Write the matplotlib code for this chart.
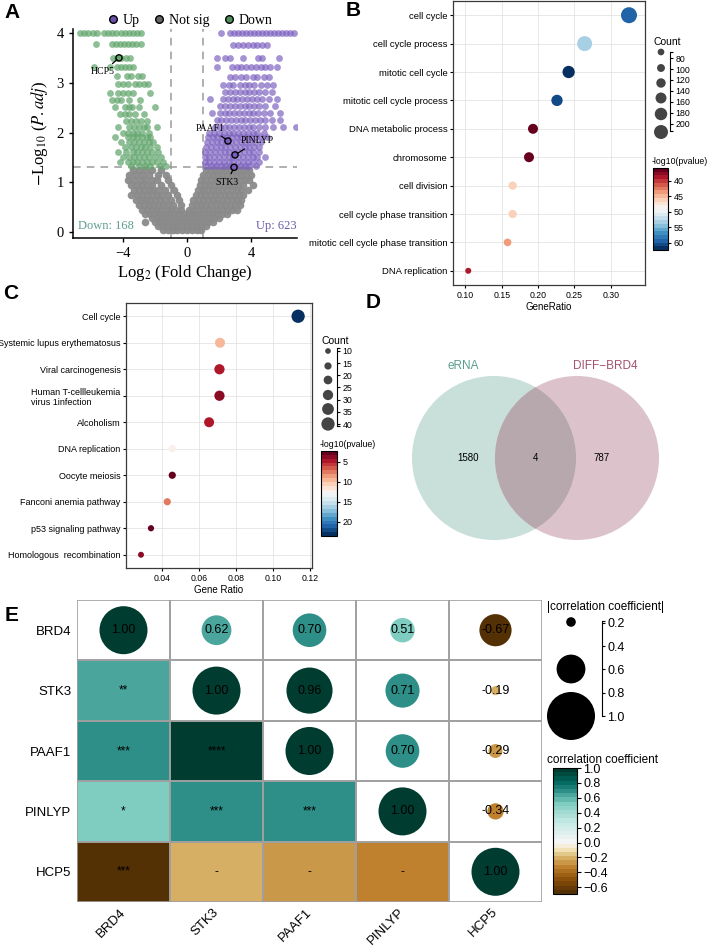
"""Recreation of a five-panel figure: volcano plot, GO / KEGG dot plots,
Venn diagram and a mixed correlation matrix."""

import matplotlib
matplotlib.use("Agg")
import matplotlib.pyplot as plt
import numpy as np
from matplotlib.cm import ScalarMappable
from matplotlib.colors import ListedColormap, Normalize
from matplotlib.lines import Line2D
from matplotlib.patches import Circle, Ellipse, Rectangle

W, H = 709, 946
SANS = ["Liberation Sans", "DejaVu Sans"]
SERIF = ["Liberation Serif", "DejaVu Serif"]
plt.rcParams["font.family"] = SANS
plt.rcParams["mathtext.fontset"] = "stix"

# ---- A: volcano, points read row by row (y = -log10 padj) --------------
up_rows = [
    (4.00, [2.1, 2.7, 2.95, 3.2, 3.45, 3.7, 3.95, 4.2, 4.45, 4.7, 4.95, 5.2, 5.45, 5.7, 5.95, 6.2, 6.45, 6.7]),
    (3.76, [2.9, 3.2, 3.5, 3.8, 4.1, 4.4, 4.7, 5.0]),
    (3.50, [1.85, 2.4, 2.7, 3.5, 4.45, 4.7, 5.75]),
    (3.32, [1.85, 2.8, 3.1, 3.4, 3.7, 4.0, 4.3, 4.6, 4.9, 5.2, 5.6]),
    (3.12, [2.7, 3.0, 3.4, 3.7, 4.1, 4.4, 4.8, 5.1]),
    (2.95, [2.25, 2.6, 2.9, 3.3, 3.6, 3.9, 4.2, 4.6, 5.0, 5.4]),
    (2.82, [2.4, 2.7, 3.0, 3.3, 3.6, 3.9, 4.2, 4.5, 4.9, 5.3]),
    (2.67, [1.43, 2.25, 2.55, 2.85, 3.15, 3.45, 3.75, 4.05, 4.35, 4.7, 5.1, 5.6]),
    (2.53, [2.06, 2.4, 2.7, 3.0, 3.3, 3.6, 3.9, 4.2, 4.5, 4.9, 5.5]),
    (2.39, [1.55, 2.06, 2.35, 2.65, 2.95, 3.25, 3.55, 3.85, 4.15, 4.45, 4.8, 5.2, 5.8]),
    (2.25, [1.85, 2.15, 2.45, 2.75, 3.05, 3.35, 3.65, 3.95, 4.25, 4.55, 4.9, 5.3, 5.8]),
    (2.12, [1.75, 2.05, 2.35, 2.65, 2.95, 3.25, 3.55, 3.85, 4.15, 4.5, 4.9, 5.4, 6.0, 6.8]),
    (2.00, [1.4, 1.7, 2.0, 2.3, 2.6, 2.9, 3.2, 3.5, 3.8, 4.1, 4.4, 4.8]),
    (1.90, [1.3, 1.6, 1.9, 2.2, 2.5, 2.8, 3.1, 3.4, 3.7, 4.0, 4.3, 4.6, 5.0]),
    (1.80, [1.25, 1.55, 1.85, 2.15, 2.45, 2.75, 3.05, 3.35, 3.65, 3.95, 4.25, 4.6]),
    (1.70, [1.2, 1.5, 1.8, 2.1, 2.4, 2.7, 3.0, 3.3, 3.6, 3.9, 4.2, 4.5]),
    (1.60, [1.15, 1.45, 1.75, 2.05, 2.35, 2.65, 2.95, 3.25, 3.55, 3.85, 4.15, 4.5]),
    (1.50, [1.1, 1.4, 1.7, 2.0, 2.3, 2.6, 2.9, 3.2, 3.5, 3.8, 4.1, 4.4, 4.9]),
    (1.40, [1.1, 1.4, 1.7, 2.0, 2.3, 2.6, 2.9, 3.2, 3.5, 3.8, 4.1, 4.5]),
    (1.32, [1.2, 1.5, 1.8, 2.1, 2.4, 2.7, 3.0, 3.3, 3.6, 3.9, 4.3]),
]
down_rows = [
    (4.00, [-6.7, -6.45, -6.2, -5.9, -5.6, -5.2, -4.95, -4.7, -4.45, -4.1, -3.85, -3.6, -3.35, -3.1, -2.85]),
    (3.77, [-5.7, -4.7, -4.45, -4.2, -3.95, -3.7, -3.45, -3.2, -2.85]),
    (3.50, [-4.6, -4.35, -4.1, -3.8, -3.55]),
    (3.32, [-5.8, -4.8, -4.4, -4.15, -3.9, -3.65, -3.4]),
    (3.13, [-4.4, -3.77, -3.5, -3.06, -2.8]),
    (2.97, [-4.3, -4.0, -3.7, -3.25, -3.0, -2.7, -2.44]),
    (2.79, [-4.8, -4.3, -4.0, -3.7, -3.4, -2.3]),
    (2.65, [-4.7, -4.4, -4.1, -3.6, -2.94]),
    (2.52, [-4.5, -3.9, -3.65, -3.45, -3.0, -2.0]),
    (2.37, [-4.2, -3.9, -3.6, -3.25, -2.7]),
    (2.23, [-3.8, -3.5, -3.2, -2.9, -2.5]),
    (2.12, [-4.3, -3.6, -3.3, -3.0, -2.7, -2.5, -1.9]),
    (2.00, [-4.0, -3.7, -3.4, -3.1, -2.8, -2.4]),
    (1.90, [-4.5, -3.7, -3.4, -3.1, -2.8, -2.5, -2.3]),
    (1.80, [-4.1, -3.6, -3.3, -3.0, -2.7, -2.4, -2.1]),
    (1.70, [-3.9, -3.5, -3.2, -2.9, -2.6, -2.3, -1.9]),
    (1.60, [-4.3, -3.8, -3.4, -3.1, -2.8, -2.5, -2.2, -1.8]),
    (1.50, [-4.0, -3.6, -3.3, -3.0, -2.7, -2.4, -2.0, -1.6]),
    (1.40, [-4.2, -3.7, -3.4, -3.1, -2.8, -2.5, -2.2, -1.9, -1.5]),
    (1.33, [-3.5, -3.0, -2.6, -2.3, -1.7, -1.3]),
]
ns_rows = [
    (1.25, [-3.4, -3.0, -2.6, -2.2, -1.6, 1.2, 1.5, 1.8, 2.1, 2.4, 2.7, 3.0, 3.3, 3.6, 3.9]),
    (1.15, [-3.6, -3.2, -2.8, -2.4, -1.8, -1.3, 1.0, 1.3, 1.6, 1.9, 2.2, 2.5, 2.8, 3.1, 3.4, 3.7, 4.0]),
    (1.05, [-3.7, -3.3, -2.9, -2.6, -2.2, -1.9, -1.2, 0.9, 1.2, 1.5, 1.8, 2.1, 2.4, 2.7, 3.0, 3.3, 3.6, 3.9]),
    (0.95, [-3.5, -3.1, -2.8, -2.5, -2.2, -1.6, -1.0, 0.8, 1.1, 1.4, 1.7, 2.0, 2.3, 2.6, 2.9, 3.2, 3.5, 4.1]),
    (0.85, [-3.3, -3.0, -2.7, -2.4, -2.1, -1.8, -1.4, -0.8, 0.7, 1.0, 1.3, 1.6, 1.9, 2.2, 2.5, 2.8, 3.1, 3.4, 3.8]),
    (0.75, [-3.5, -3.1, -2.8, -2.5, -2.2, -1.9, -1.6, -1.2, -0.6, 0.55, 0.85, 1.15, 1.45, 1.75, 2.05, 2.35, 2.65, 2.95, 3.25, 3.5]),
    (0.65, [-3.2, -2.9, -2.6, -2.3, -2.0, -1.7, -1.4, -1.0, -0.5, 0.4, 0.7, 1.0, 1.3, 1.6, 1.9, 2.2, 2.5, 2.8, 3.1, 3.4]),
    (0.55, [-3.0, -2.7, -2.4, -2.1, -1.8, -1.5, -1.2, -0.9, -0.4, 0.3, 0.6, 0.9, 1.2, 1.5, 1.8, 2.1, 2.4, 2.7, 3.0, 3.3]),
    (0.45, [-2.8, -2.5, -2.2, -1.9, -1.6, -1.3, -1.0, -0.7, -0.4, 0.1, 0.4, 0.7, 1.0, 1.3, 1.6, 1.9, 2.2, 2.5, 2.8, 3.1]),
    (0.37, [-2.6, -2.3, -2.0, -1.7, -1.4, -1.1, -0.8, -0.5, -0.2, 0.1, 0.4, 0.7, 1.0, 1.3, 1.6, 1.9, 2.2, 2.5]),
    (0.29, [-2.2, -1.9, -1.6, -1.3, -1.0, -0.7, -0.4, -0.1, 0.2, 0.5, 0.8, 1.1, 1.4, 1.7, 2.0]),
    (0.21, [-2.6, -2.0, -1.7, -1.4, -1.1, -0.8, -0.5, -0.2, 0.1, 0.4, 0.7, 1.0, 1.3, 1.6]),
    (0.13, [-1.8, -1.5, -1.2, -0.9, -0.6, -0.3, 0.0, 0.3, 0.6, 0.9, 1.2]),
    (0.05, [-1.5, -1.2, -0.9, -0.6, -0.3, 0.0, 0.3, 0.6, 0.9]),
]
hit_genes = ["HCP5", "PAAF1", "PINLYP", "STK3"]
hit_x = [-4.25, 2.56, 3.0, 2.94]
hit_y = [3.50, 1.83, 1.55, 1.30]
hit_label_x = [-5.25, 1.44, 4.4, 2.5]
hit_label_y = [3.22, 2.09, 1.83, 1.00]
n_up, n_down = 623, 168

# ---- B: GO enrichment --------------------------------------------------
go_terms = ["cell cycle", "cell cycle process", "mitotic cell cycle",
            "mitotic cell cycle process", "DNA metabolic process", "chromosome",
            "cell division", "cell cycle phase transition",
            "mitotic cell cycle phase transition", "DNA replication"]
go_ratio = [0.325, 0.264, 0.242, 0.226, 0.193, 0.1875, 0.165, 0.165, 0.158, 0.104]
go_count = [233, 216, 172, 156, 134, 134, 106, 106, 96, 68]
go_logp = [59.0, 53.8, 61.5, 61.0, 37.0, 36.6, 46.4, 45.6, 43.2, 39.0]
go_count_legend = [80, 100, 125, 150, 175, 200]

# ---- C: KEGG enrichment ------------------------------------------------
kegg_terms = ["Cell cycle", "Systemic lupus erythematosus", "Viral carcinogenesis",
              "Human T-cellleukemia\nvirus 1infection", "Alcoholism", "DNA replication",
              "Oocyte meiosis", "Fanconi anemia pathway", "p53 signaling pathway",
              "Homologous  recombination"]
kegg_ratio = [0.1135, 0.0713, 0.0710, 0.0710, 0.0654, 0.0455, 0.0455, 0.0428, 0.0340, 0.0286]
kegg_count = [40, 27, 28, 28, 27, 17, 16, 16, 12, 11]
kegg_logp = [22.7, 10.0, 4.4, 4.0, 4.9, 12.1, 2.7, 7.6, 2.9, 4.2]
kegg_count_legend = [10, 16, 22, 28, 34, 40]

# ---- D: Venn -----------------------------------------------------------
venn_names = ["eRNA", "DIFF\u2212BRD4"]
venn_counts = [1580, 4, 787]   # eRNA only, both, DIFF-BRD4 only

# ---- E: correlation matrix ---------------------------------------------
genes = ["BRD4", "STK3", "PAAF1", "PINLYP", "HCP5"]
corr = [
    [1.00, 0.62, 0.70, 0.51, -0.67],
    [0.62, 1.00, 0.96, 0.71, -0.19],
    [0.70, 0.96, 1.00, 0.70, -0.29],
    [0.51, 0.71, 0.70, 1.00, -0.34],
    [-0.67, -0.19, -0.29, -0.34, 1.00],
]
sig_labels = [
    [],
    ["**"],
    ["***", "****"],
    ["*", "***", "***"],
    ["***", "-", "-", "-"],
]
size_legend = [0.2, 0.6, 1.0]


def box(l, t, r, b):
    """pixel box (left, top, right, bottom) -> figure fraction rect"""
    return [l / W, 1 - b / H, (r - l) / W, (b - t) / H]


def flatten(rows):
    xs, ys = [], []
    for y, row in rows:
        xs += row
        ys += [y] * len(row)
    return xs, ys


def px_area(d):
    """marker diameter in pixels -> scatter size in pt^2 (dpi 100)"""
    return (np.asarray(d, dtype=float) * 0.72) ** 2


def go_diam(c):
    return 6.7 + (np.asarray(c, dtype=float) - 80) * 0.0608


def kegg_diam(c):
    return 5.7 + (np.asarray(c, dtype=float) - 10) * 0.253


def bracket(l, t, r, b, lim, ticks, labels, fs):
    ax = fig.add_axes(box(l, t, r, b))
    ax.set_ylim(*lim)
    for s in ("left", "top", "bottom"):
        ax.spines[s].set_visible(False)
    ax.spines["right"].set_linewidth(0.8)
    ax.set_xticks([])
    ax.yaxis.tick_right()
    ax.set_yticks(ticks)
    ax.set_yticklabels(labels, fontsize=fs)
    ax.set_yticks(lim, minor=True)
    ax.tick_params(axis="y", which="both", direction="out", length=2.5, width=0.8, pad=1.5)
    ax.patch.set_alpha(0)
    return ax


fig = plt.figure(figsize=(W / 100, H / 100), dpi=100)
ov = fig.add_axes([0, 0, 1, 1], zorder=10)
ov.set_xlim(0, W)
ov.set_ylim(H, 0)
ov.axis("off")
ov.patch.set_alpha(0)

for letter, (lx, ly) in zip("ABCDE", [(12, 12), (353, 11), (11, 293), (373, 302), (12, 615)]):
    ov.text(lx, ly, letter, fontsize=15, fontweight="bold", ha="center", va="center")

# ---- A -----------------------------------------------------------------
axA = fig.add_axes(box(73, 29, 297, 238))
nx, ny = flatten(ns_rows)
dx, dy = flatten(down_rows)
ux, uy = flatten(up_rows)
axA.scatter(nx, ny, s=30, color="#8a8a8a", alpha=0.95, lw=0, zorder=2)
axA.scatter(dx, dy, s=24, color="#62a66d", alpha=0.72, lw=0, zorder=2)
axA.scatter(ux, uy, s=24, color="#7b5fbf", alpha=0.68, lw=0, zorder=2)
for v in (-1, 1):
    axA.axvline(v, color="#9a9a9a", lw=1.1, ls=(0, (5, 4)), zorder=1)
axA.axhline(-np.log10(0.05), color="#9a9a9a", lw=1.1, ls=(0, (5, 4)), zorder=1)
hit_colors = ["#62a66d", "#7b5fbf", "#7b5fbf", "#7b5fbf"]
axA.scatter(hit_x, hit_y, s=20, facecolor=hit_colors, edgecolor="black", lw=1.0, zorder=4)
for g, x, y, tx, ty in zip(hit_genes, hit_x, hit_y, hit_label_x, hit_label_y):
    axA.annotate(g, (x, y), xytext=(tx, ty), fontsize=7, family=SERIF, ha="center", va="center",
                 arrowprops=dict(arrowstyle="-", lw=0.9, color="black", shrinkA=1, shrinkB=2), zorder=5)
axA.text(-6.8, 0.0, f"Down: {n_down}", color="#5f9e90", fontsize=9, family=SERIF, va="bottom")
axA.text(6.85, 0.0, f"Up: {n_up}", color="#6b5aa8", fontsize=9, family=SERIF, va="bottom", ha="right")
axA.set_xlim(-7.125, 6.875)
axA.set_ylim(-0.12, 4.08)
axA.set_xticks([-4, 0, 4])
axA.set_yticks([0, 1, 2, 3, 4])
for s in ("top", "right"):
    axA.spines[s].set_visible(False)
for s in ("left", "bottom"):
    axA.spines[s].set_linewidth(1.1)
axA.tick_params(length=3, width=1.0, labelsize=10.5)
for t in axA.get_xticklabels() + axA.get_yticklabels():
    t.set_family(SERIF)
axA.set_xlabel(r"Log$_2$ (Fold Change)", fontsize=12, family=SERIF, labelpad=2)
axA.set_ylabel(r"$-$Log$_{10}$ ($\mathit{P{.}adj}$)", fontsize=12, family=SERIF, labelpad=5)
handles = [Line2D([], [], ls="", marker="o", ms=5.5, mfc=c, mec="black", mew=1.0)
           for c in ("#6a4fa8", "#666666", "#4f8f5c")]
axA.legend(handles, ["Up", "Not sig", "Down"], loc="lower center", bbox_to_anchor=(0.52, 0.985),
           ncol=3, frameon=False, handletextpad=0.2, columnspacing=0.9, borderaxespad=0,
           handlelength=1.0, prop={"family": SERIF, "size": 10})

# ---- B -----------------------------------------------------------------
cmap_rd = plt.get_cmap("RdBu", 22)
axB = fig.add_axes(box(453, 1, 645, 285))
normB = Normalize(35.8, 62.3)
yb = np.arange(len(go_terms))
axB.scatter(go_ratio, yb, s=px_area(go_diam(go_count)), c=go_logp, cmap=cmap_rd, norm=normB,
            lw=0, zorder=3)
axB.set_ylim(len(go_terms) - 0.5, -0.5)
axB.set_xlim(0.083, 0.347)
axB.set_yticks(yb)
axB.set_yticklabels(go_terms, fontsize=6.8)
axB.set_xticks([0.10, 0.15, 0.20, 0.25, 0.30])
axB.set_xticklabels(["0.10", "0.15", "0.20", "0.25", "0.30"], fontsize=6.3)
axB.grid(color="#e4e4e4", lw=0.6, zorder=0)
axB.set_axisbelow(True)
for s in axB.spines.values():
    s.set_color("#3a3a3a")
    s.set_linewidth(0.9)
axB.tick_params(length=2.5, width=0.8, pad=1.5)
axB.set_xlabel("GeneRatio", fontsize=7, labelpad=2)

caxB = fig.add_axes(box(653, 168, 668, 250))
cbB = fig.colorbar(ScalarMappable(norm=normB, cmap=cmap_rd), cax=caxB)
caxB.invert_yaxis()
cbB.set_ticks([40, 45, 50, 55, 60])
cbB.outline.set_linewidth(0.8)
caxB.tick_params(labelsize=6.5, length=2.5, width=0.8, pad=1.5)
ov.text(652, 162, "-log10(pvalue)", fontsize=6.3, va="center", ha="left")
ov.text(653, 42, "Count", fontsize=7.5, va="center", ha="left")
ov.scatter([661] * len(go_count_legend), [52, 68, 83, 98, 114, 132],
           s=px_area(go_diam(go_count_legend)), color="#444444", lw=0)
bracket(667, 52, 670, 131, (213, 69), [80, 100, 120, 140, 160, 180, 200],
        ["80", "100", "120", "140", "160", "180", "200"], 6.3)

# ---- C -----------------------------------------------------------------
axC = fig.add_axes(box(126, 303, 312, 568))
normC = Normalize(2.3, 23.6)
yc = np.arange(len(kegg_terms))
axC.scatter(kegg_ratio, yc, s=px_area(kegg_diam(kegg_count)), c=kegg_logp, cmap=cmap_rd,
            norm=normC, lw=0, zorder=3)
axC.set_ylim(len(kegg_terms) - 0.5, -0.5)
axC.set_xlim(0.0205, 0.121)
axC.set_yticks(yc)
axC.set_yticklabels(kegg_terms, fontsize=6.5, multialignment="left")
axC.set_xticks([0.04, 0.06, 0.08, 0.10, 0.12])
axC.set_xticklabels(["0.04", "0.06", "0.08", "0.10", "0.12"], fontsize=6.3)
axC.grid(color="#e4e4e4", lw=0.6, zorder=0)
axC.set_axisbelow(True)
for s in axC.spines.values():
    s.set_color("#3a3a3a")
    s.set_linewidth(0.9)
axC.tick_params(length=2.5, width=0.8, pad=1.5)
axC.set_xlabel("Gene Ratio", fontsize=7, labelpad=2)

caxC = fig.add_axes(box(321, 451, 337, 536))
cbC = fig.colorbar(ScalarMappable(norm=normC, cmap=cmap_rd), cax=caxC)
caxC.invert_yaxis()
cbC.set_ticks([5, 10, 15, 20])
cbC.outline.set_linewidth(0.8)
caxC.tick_params(labelsize=6.5, length=2.5, width=0.8, pad=1.5)
ov.text(320, 444, "-log10(pvalue)", fontsize=6.3, va="center", ha="left")
ov.text(321, 341, "Count", fontsize=7.5, va="center", ha="left")
ov.scatter([328] * len(kegg_count_legend), [351, 366, 380, 395, 409, 424],
           s=px_area(kegg_diam(kegg_count_legend)), color="#444444", lw=0)
bracket(334, 348, 337, 426, (40.8, 8.8), [10, 15, 20, 25, 30, 35, 40],
        ["10", "15", "20", "25", "30", "35", "40"], 6.3)

# ---- D -----------------------------------------------------------------
axD = fig.add_axes(box(400, 360, 670, 550))
axD.set_xlim(-1.652, 1.640)
axD.set_ylim(-1.122, 1.195)
axD.axis("off")
left = Circle((-0.506, 0), 1.0, fc="#c8dfda", ec="none")
right = Circle((0.506, 0), 1.0, fc="#dcc3cb", ec="none")
axD.add_patch(left)
axD.add_patch(right)
lens = Circle((-0.506, 0), 1.0, fc="#b6a8ac", ec="none")
axD.add_patch(lens)
lens.set_clip_path(right)
axD.text(-0.884, 1.12, venn_names[0], color="#5a9f8c", fontsize=8.5, ha="center", va="center")
axD.text(0.848, 1.12, venn_names[1], color="#a3526c", fontsize=8.5, ha="center", va="center")
for x, n in zip([-0.823, 0.006, 0.81], venn_counts):
    axD.text(x, 0.0, str(n), fontsize=7, ha="center", va="center")

# ---- E -----------------------------------------------------------------
vmin_e, vmax_e = -0.69, 1.0
# position of each value along the BrBG palette, as the cell colours show it
pal_vals = [-0.69, -0.34, -0.19, 0.0, 0.51, 0.62, 0.70, 1.0]
pal_pos = [0.0, 0.20, 0.29, 0.5, 0.69, 0.75, 0.81, 1.0]
brbg = plt.get_cmap("BrBG")
cmap_e = ListedColormap([brbg(np.interp(v, pal_vals, pal_pos))
                         for v in np.linspace(vmin_e, vmax_e, 30)])
norm_e = Normalize(vmin_e, vmax_e)

axE = fig.add_axes(box(77, 600, 542, 902))
axE.set_xlim(0, 5)
axE.set_ylim(5, 0)
n = len(genes)
cw, ch = 465 / n, 302 / n          # cell size in pixels
for i in range(n):
    for j in range(n):
        r = corr[i][j]
        col = cmap_e(norm_e(r))
        if j >= i:
            d = abs(r) * 48           # circle diameter in pixels
            axE.add_patch(Ellipse((j + 0.5, i + 0.5), d / cw, d / ch, fc=col, ec="none", zorder=2))
            axE.text(j + 0.5, i + 0.5, f"{r:.2f}", fontsize=9,
                     ha="center", va="center", zorder=3)
        else:
            axE.add_patch(Rectangle((j, i), 1, 1, fc=col, ec="none", zorder=1))
            axE.text(j + 0.5, i + 0.5, sig_labels[i][j], fontsize=8.5,
                     ha="center", va="center", zorder=3)
        axE.add_patch(Rectangle((j, i), 1, 1, fill=False, ec="#a0a0a0", lw=1.2, zorder=4))
axE.set_xticks(np.arange(n) + 0.5)
axE.set_yticks(np.arange(n) + 0.5)
axE.set_xticklabels(genes, rotation=45, ha="right", va="center", rotation_mode="anchor", fontsize=9.5)
axE.set_yticklabels(genes, fontsize=9.5)
axE.tick_params(axis="y", length=0, pad=4)
axE.tick_params(axis="x", length=0, pad=6)
for s in axE.spines.values():
    s.set_visible(False)

ov.text(547, 607, "|correlation coefficient|", fontsize=8.5, va="center", ha="left")
for r, y in zip(size_legend, [622, 669, 716]):
    ov.add_patch(Circle((571, y), r * 24, fc="black", ec="none"))
bracket(599, 621, 602, 716, (1.0, 0.183), [0.2, 0.4, 0.6, 0.8, 1.0],
        ["0.2", "0.4", "0.6", "0.8", "1.0"], 9)

caxE = fig.add_axes(box(553, 768, 577, 894))
cbE = fig.colorbar(ScalarMappable(norm=norm_e, cmap=cmap_e), cax=caxE)
cbE.set_ticks([-0.6, -0.4, -0.2, 0.0, 0.2, 0.4, 0.6, 0.8, 1.0])
cbE.outline.set_linewidth(0.8)
caxE.tick_params(labelsize=9, length=3, width=0.8, pad=1.5)
ov.text(547, 760, "correlation coefficient", fontsize=8.5, va="center", ha="left")

fig.savefig("out.png", dpi=100)
